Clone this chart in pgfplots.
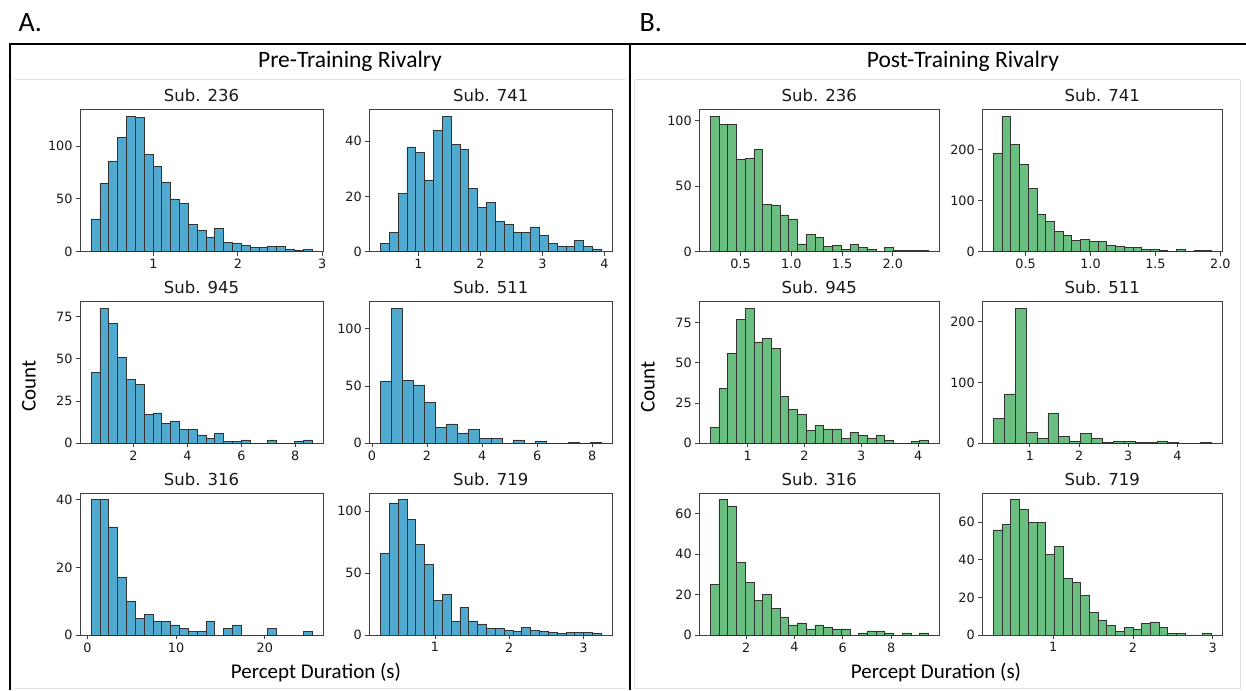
\documentclass[border=0pt]{standalone}
\usepackage{fontspec}
\usepackage{pgfplots}
\pgfplotsset{compat=1.18}
\setmainfont{Carlito}
\newfontfamily\dejavu{DejaVu Sans}

\definecolor{barblue}{RGB}{80,169,206}
\definecolor{bargreen}{RGB}{106,190,127}

\pgfplotsset{
  hist/.style={
    scale only axis, height=142pt, ymin=0,
    axis line style={black!75, line width=0.8pt},
    tick pos=left, tick align=outside, major tick length=4pt,
    tick style={black!75, line width=0.8pt},
    tick label style={font=\dejavu\fontsize{12.8}{14}\selectfont, text=black!90},
    title style={font=\dejavu\fontsize{16.5}{18}\selectfont, text=black!90, yshift=-2pt},
    /pgf/number format/assume math mode=true,
    scaled ticks=false, enlargelimits=false,
  },
  pre/.style={hist, width=243pt},
  post/.style={hist, width=240pt},
  onedec/.style={xticklabel style={/pgf/number format/.cd, fixed, fixed zerofill, precision=1}},
  bluebar/.style={ybar interval, fill=barblue, draw=black!80, line width=0.6pt},
  greenbar/.style={ybar interval, fill=bargreen, draw=black!80, line width=0.6pt},
}

\begin{document}
\begin{tikzpicture}[x=1pt,y=1pt]
\path[use as bounding box, fill=white] (0pt,0pt) rectangle (1246pt,690pt);

% panel frames
\draw[black!12, line width=1pt] (14pt,610pt) -- (626pt,610pt);
\draw[black!12, line width=1pt] (634pt,610pt) -- (1240pt,610pt);
\draw[black!12, line width=1pt] (14pt,2pt) -- (626pt,2pt);
\draw[black!12, line width=1pt] (634pt,2pt) -- (1240pt,2pt) -- (1240pt,610pt);
\draw[black!12, line width=1pt] (634pt,2pt) -- (634pt,610pt);
\draw[black, line width=1.6pt] (10pt,0pt) -- (10pt,646pt) -- (1246pt,646pt);
\draw[black, line width=1.6pt] (630pt,0pt) -- (630pt,646pt);

\node[font=\fontsize{28}{30}\selectfont, anchor=west] at (15pt,667pt) {A.};
\node[font=\fontsize{28}{30}\selectfont, anchor=west] at (636pt,667pt) {B.};
\node[font=\fontsize{23.5}{26}\selectfont] at (350pt,629pt) {Pre-Training Rivalry};
\node[font=\fontsize{23.5}{26}\selectfont] at (963pt,629pt) {Post-Training Rivalry};
\node[font=\fontsize{21}{23}\selectfont, rotate=90] at (29pt,304pt) {Count};
\node[font=\fontsize{21}{23}\selectfont, rotate=90] at (648pt,303pt) {Count};
\node[font=\fontsize{21}{23}\selectfont] at (316pt,17pt) {Percept Duration (s)};
\node[font=\fontsize{21}{23}\selectfont] at (936pt,17pt) {Percept Duration (s)};

% ---------------- Pre-training ----------------
\begin{axis}[pre, at={(80pt,438.3pt)}, anchor=south west, title={Sub. 236},
  xmin=0.129, xmax=3.009, ymax=134.4, xtick={1,2,3}, ytick={0,50,100}]
\addplot[bluebar] coordinates {(0.260,31)(0.365,65)(0.469,86)(0.574,108)(0.679,128)(0.784,127)(0.888,92)(0.993,81)(1.098,66)(1.202,50)(1.307,46)(1.412,26)(1.516,20)(1.621,14)(1.726,22)(1.831,9)(1.935,8)(2.040,6)(2.145,4)(2.249,4)(2.354,5)(2.459,5)(2.563,2)(2.668,1)(2.773,2)(2.878,2)};
\end{axis}

\begin{axis}[pre, at={(369.3pt,438.3pt)}, anchor=south west, title={Sub. 741},
  xmin=0.206, xmax=4.125, ymax=51.45, xtick={1,2,3,4}, ytick={0,20,40}]
\addplot[bluebar] coordinates {(0.384,3)(0.527,7)(0.669,21)(0.812,38)(0.954,36)(1.097,26)(1.239,44)(1.382,49)(1.524,39)(1.667,37)(1.809,23)(1.952,16)(2.094,18)(2.237,11)(2.379,10)(2.522,7)(2.664,7)(2.807,9)(2.949,6)(3.092,3)(3.234,2)(3.377,2)(3.519,4)(3.662,2)(3.804,1)(3.947,1)};
\end{axis}

\begin{axis}[pre, at={(80pt,246.7pt)}, anchor=south west, title={Sub. 945},
  xmin=0.014, xmax=9.027, ymax=84, xtick={2,4,6,8}, ytick={0,25,50,75}]
\addplot[bluebar] coordinates {(0.424,42)(0.752,80)(1.079,71)(1.407,51)(1.735,38)(2.063,35)(2.390,17)(2.718,18)(3.046,12)(3.373,13)(3.701,8)(4.029,8)(4.356,5)(4.684,3)(5.012,6)(5.340,1)(5.667,1)(5.995,2)(6.323,0)(6.650,0)(6.978,2)(7.306,0)(7.633,0)(7.961,1)(8.289,2)(8.617,2)};
\end{axis}

\begin{axis}[pre, at={(369.3pt,246.7pt)}, anchor=south west, title={Sub. 511},
  xmin=-0.098, xmax=8.73, ymax=123.9, xtick={0,2,4,6,8}, ytick={0,50,100}]
\addplot[bluebar] coordinates {(0.303,54)(0.704,118)(1.106,55)(1.507,51)(1.908,36)(2.310,14)(2.711,17)(3.112,9)(3.513,12)(3.915,4)(4.316,4)(4.717,0)(5.119,3)(5.520,0)(5.921,2)(6.323,0)(6.724,0)(7.125,1)(7.526,0)(7.928,1)(8.329,1)};
\end{axis}

\begin{axis}[pre, at={(80pt,55pt)}, anchor=south west, title={Sub. 316},
  xmin=-0.836, xmax=26.566, ymax=42, xtick={0,10,20}, ytick={0,20,40}]
\addplot[bluebar] coordinates {(0.410,40)(1.406,40)(2.403,32)(3.399,17)(4.396,10)(5.392,5)(6.388,6)(7.385,4)(8.381,4)(9.378,3)(10.374,2)(11.370,1)(12.367,1)(13.363,4)(14.360,0)(15.356,2)(16.352,3)(17.349,0)(18.345,0)(19.342,0)(20.338,2)(21.334,0)(22.331,0)(23.327,0)(24.324,1)(25.320,1)};
\end{axis}

\begin{axis}[pre, at={(369.3pt,55pt)}, anchor=south west, title={Sub. 719},
  xmin=0.116, xmax=3.387, ymax=114.45, xtick={1,2,3}, ytick={0,50,100}]
\addplot[bluebar] coordinates {(0.265,66)(0.384,106)(0.503,109)(0.622,93)(0.741,73)(0.860,57)(0.978,28)(1.097,33)(1.216,11)(1.335,22)(1.454,11)(1.573,9)(1.692,5)(1.811,5)(1.930,4)(2.049,3)(2.167,6)(2.286,4)(2.405,3)(2.524,2)(2.643,1)(2.762,2)(2.881,2)(3.000,2)(3.119,1)(3.238,1)};
\end{axis}

% ---------------- Post-training ----------------
\begin{axis}[post, onedec, at={(699.3pt,438.3pt)}, anchor=south west, title={Sub. 236},
  xmin=0.094, xmax=2.459, ymax=108.15, xtick={0.5,1.0,1.5,2.0}, ytick={0,50,100}]
\addplot[greenbar] coordinates {(0.201,103)(0.287,97)(0.373,97)(0.459,70)(0.545,71)(0.631,78)(0.717,36)(0.803,35)(0.889,28)(0.975,25)(1.061,6)(1.147,13)(1.233,11)(1.319,4)(1.405,5)(1.491,2)(1.577,6)(1.663,3)(1.749,2)(1.835,0)(1.921,3)(2.007,1)(2.093,1)(2.179,1)(2.265,1)(2.351,1)};
\end{axis}

\begin{axis}[post, onedec, at={(982.3pt,438.3pt)}, anchor=south west, title={Sub. 741},
  xmin=0.167, xmax=2.015, ymax=278.25, xtick={0.5,1.0,1.5,2.0}, ytick={0,100,200}]
\addplot[greenbar] coordinates {(0.251,192)(0.318,265)(0.385,210)(0.453,171)(0.520,124)(0.587,73)(0.654,59)(0.721,40)(0.789,32)(0.856,22)(0.923,24)(0.990,20)(1.057,20)(1.125,13)(1.192,11)(1.259,8)(1.326,8)(1.393,4)(1.461,4)(1.528,2)(1.595,1)(1.662,4)(1.729,1)(1.797,2)(1.864,3)(1.931,3)};
\end{axis}

\begin{axis}[post, at={(699.3pt,246.7pt)}, anchor=south west, title={Sub. 945},
  xmin=0.151, xmax=4.373, ymax=88.2, xtick={1,2,3,4}, ytick={0,25,50,75}]
\addplot[greenbar] coordinates {(0.343,10)(0.497,34)(0.650,56)(0.804,77)(0.957,84)(1.111,63)(1.264,65)(1.418,59)(1.571,29)(1.725,21)(1.878,18)(2.032,8)(2.185,11)(2.339,9)(2.492,9)(2.646,3)(2.799,7)(2.953,5)(3.106,3)(3.260,5)(3.413,2)(3.567,0)(3.720,0)(3.874,1)(4.027,2)(4.181,2)};
\end{axis}

\begin{axis}[post, at={(982.3pt,246.7pt)}, anchor=south west, title={Sub. 511},
  xmin=0.033, xmax=4.911, ymax=233.1, xtick={1,2,3,4}, ytick={0,100,200}]
\addplot[greenbar] coordinates {(0.255,41)(0.477,81)(0.698,222)(0.920,18)(1.142,8)(1.364,49)(1.585,11)(1.807,4)(2.029,16)(2.250,8)(2.472,2)(2.694,3)(2.915,3)(3.137,1)(3.359,1)(3.581,4)(3.802,2)(4.024,0)(4.246,0)(4.467,1)(4.689,1)};
\end{axis}

\begin{axis}[post, at={(699.3pt,55pt)}, anchor=south west, title={Sub. 316},
  xmin=0.058, xmax=9.997, ymax=70.35, xtick={2,4,6,8}, ytick={0,20,40,60}]
\addplot[greenbar] coordinates {(0.510,25)(0.871,67)(1.233,64)(1.594,36)(1.956,26)(2.317,17)(2.678,20)(3.040,13)(3.401,9)(3.763,5)(4.124,6)(4.485,3)(4.847,5)(5.208,4)(5.570,3)(5.931,3)(6.292,0)(6.654,1)(7.015,2)(7.377,2)(7.738,1)(8.099,0)(8.461,1)(8.822,0)(9.184,1)(9.545,1)};
\end{axis}

\begin{axis}[post, at={(982.3pt,55pt)}, anchor=south west, title={Sub. 719},
  xmin=0.111, xmax=3.12, ymax=75.6, xtick={1,2,3}, ytick={0,20,40,60}]
\addplot[greenbar] coordinates {(0.248,56)(0.357,59)(0.467,72)(0.576,67)(0.686,60)(0.795,60)(0.904,43)(1.014,47)(1.123,30)(1.233,28)(1.342,21)(1.451,12)(1.561,8)(1.670,5)(1.780,2)(1.889,4)(1.998,3)(2.108,6)(2.217,7)(2.327,4)(2.436,1)(2.545,1)(2.655,0)(2.764,0)(2.874,1)(2.983,1)};
\end{axis}
\end{tikzpicture}
\end{document}
